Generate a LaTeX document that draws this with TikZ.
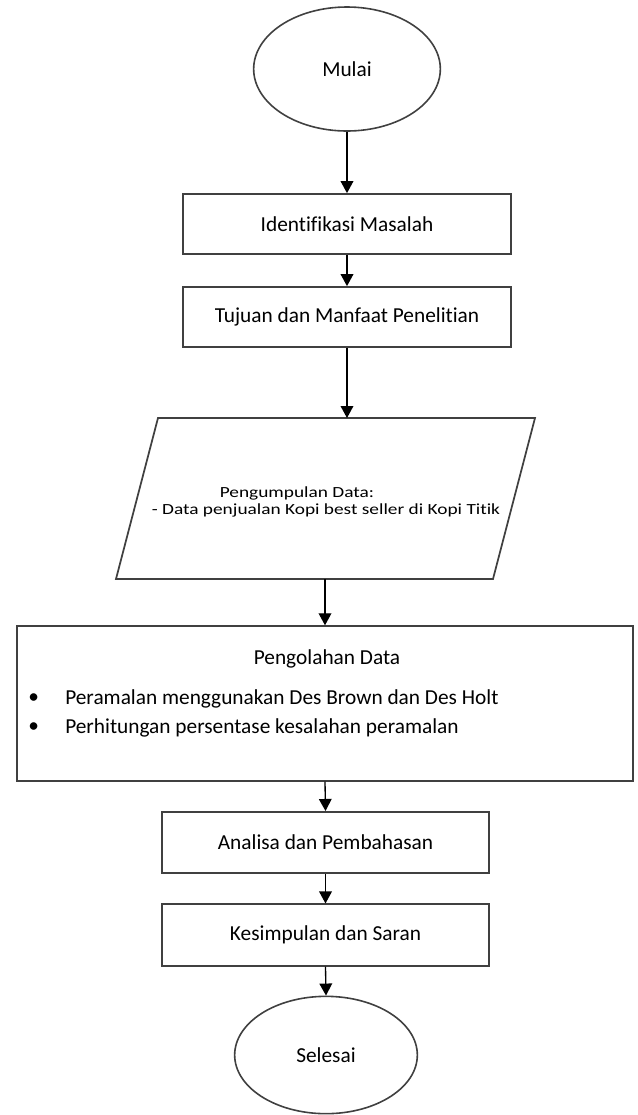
\documentclass[tikz,border=0pt]{standalone}
\usepackage{fontspec}
\setmainfont{Carlito}[Ligatures=NoCommon]
\newfontfamily\widefont{Carlito}[FakeStretch=1.25,Ligatures=NoCommon]
\usetikzlibrary{shapes.geometric}
\usetikzlibrary{arrows.meta}
\tikzset{flowarrow/.style={ -{Triangle[length=9pt,width=9.5pt]}, line width=1pt } }
\tikzset{flowbox/.style={ rectangle, draw=black!75, line width=1.3pt, minimum width=246pt, minimum height=45pt, inner sep=0pt, font=\fontsize{16}{19}\selectfont } }
\tikzset{terminal/.style={ ellipse, draw=black!75, line width=1.2pt, inner sep=0pt, font=\fontsize{16}{19}\selectfont } }
\tikzset{itemtext/.style={ anchor=west, inner sep=0pt, font=\fontsize{16}{19}\selectfont } }

\begin{document}
\begin{tikzpicture}[x=0.75pt,y=-0.75pt]
            \useasboundingbox (0,0) rectangle (638,1115);
            \node [terminal, minimum width=140pt, minimum height=93pt] (mulai) at (347,69) {Mulai};
            \node [flowbox] (identifikasi) at (347,224) {Identifikasi Masalah};
            \node [flowbox] (tujuan) at (347,317) {Tujuan dan Manfaat Penelitian};
            \coordinate (datatl) at (158,418);
            \coordinate (datatr) at (535,418);
            \coordinate (databr) at (493,579);
            \coordinate (databl) at (116,579);
            \draw [draw=black!75, line width=1.3pt] (datatl) -- (datatr) -- (databr) -- (databl) -- cycle;
            \node [align=left, inner sep=0pt, font=\widefont\fontsize{11.6}{13}\selectfont] (data) at (326,502) {\hspace*{51pt}Pengumpulan Data:\\- Data penjualan Kopi best seller di Kopi Titik};
            \node [flowbox, minimum width=462pt, minimum height=116pt] (olah) at (325,703.5) {};
            \node [font=\fontsize{16}{19}\selectfont] (olahjudul) at (327,659) {Pengolahan Data};
            \node [itemtext] (titik1) at (28,699) {\textbullet};
            \node [itemtext] (poin1) at (65,699) {Peramalan menggunakan Des Brown dan Des Holt};
            \node [itemtext] (titik2) at (28,728) {\textbullet};
            \node [itemtext] (poin2) at (65,728) {Perhitungan persentase kesalahan peramalan};
            \node [flowbox, minimum width=245pt, minimum height=46pt] (analisa) at (325.5,842.5) {Analisa dan Pembahasan};
            \node [flowbox, minimum width=245pt, minimum height=46pt] (kesimpulan) at (325.5,935) {Kesimpulan dan Saran};
            \node [terminal, minimum width=137pt, minimum height=88pt] (selesai) at (326,1055) {Selesai};
            \draw [flowarrow] (mulai.south) -- (identifikasi.north);
            \draw [flowarrow] (identifikasi.south) -- (tujuan.north);
            \draw [flowarrow] (tujuan.south) -- (tujuan.south |- datatl);
            \draw [flowarrow] (olah.north |- databl) -- (olah.north);
            \draw [flowarrow] (olah.south) -- (analisa.north);
            \draw [flowarrow] (analisa.south) -- (kesimpulan.north);
            \draw [flowarrow] (kesimpulan.south) -- (selesai.north);
\end{tikzpicture}
\end{document}
